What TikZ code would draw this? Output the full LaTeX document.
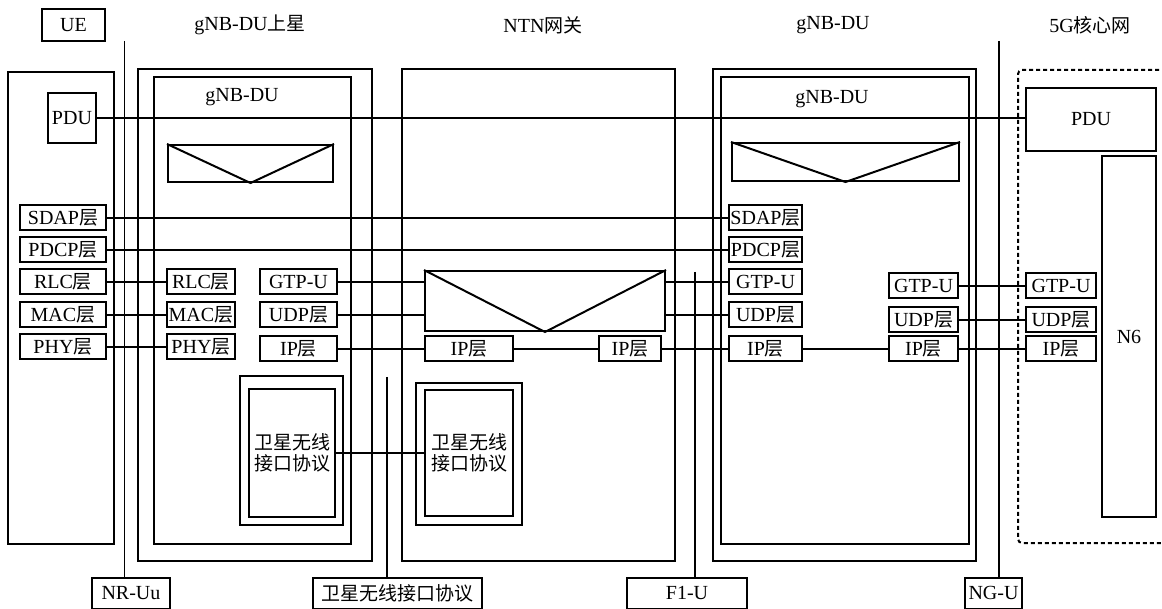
\documentclass[tikz,border=0pt]{standalone}
\usepackage{fontspec}
\setmainfont{Liberation Serif}
\newfontfamily\cjk[Scale=0.95]{Noto Sans CJK SC}
\newcommand{\zh}[1]{{\cjk #1}}

\begin{document}
\begin{tikzpicture}[
    x=1pt,
    y=-1pt,
    font=\fontsize{20}{21}\selectfont,
    frame/.style={
		rectangle,
		draw=black,
		line width=2pt,
		inner sep=0pt
	},
	layer/.style={
		rectangle,
		draw=black,
		line width=2pt,
		inner sep=0pt,
		minimum height=25pt,
		text centered
	},
	tag/.style={
		rectangle,
		draw=black,
		line width=2pt,
		inner sep=0pt,
		minimum height=31pt
	},
	link/.style={
		line width=1.2pt
	},
	vee/.style={
		line width=2pt
	}
  ]

\useasboundingbox [fill=white] (0,0) rectangle (1162,609);

% // headings
\node [tag, minimum width=63pt, minimum height=32pt] (ue) at (73.5,25) {UE};
\node (satHead) at (250,25) {gNB-DU\zh{上星}};
\node (ntnHead) at (543,25) {NTN\zh{网关}};
\node (gwHead) at (833,25) {gNB-DU};
\node (coreHead) at (1090,25) {5G\zh{核心网}};

% // UE
\node [frame, minimum width=106pt, minimum height=472pt] (ueBox) at (61,308) {};
\node [frame, minimum width=48pt, minimum height=50pt] (uePDU) at (72,118) {PDU};
\node [layer, minimum width=86pt] (ueSDAP) at (63,218) {SDAP\zh{层}};
\node [layer, minimum width=86pt] (uePDCP) at (63,250) {PDCP\zh{层}};
\node [layer, minimum width=86pt] (ueRLC) at (63,282) {RLC\zh{层}};
\node [layer, minimum width=86pt] (ueMAC) at (63,315) {MAC\zh{层}};
\node [layer, minimum width=86pt] (uePHY) at (63,347) {PHY\zh{层}};

% // gNB-DU on the satellite
\node [frame, minimum width=234pt, minimum height=492pt] (satOut) at (255,315) {};
\node [frame, minimum width=197pt, minimum height=467pt] (satIn) at (252.5,310.5) {};
\node (satDU) at (242,97) {gNB-DU};
\node [frame, minimum width=165pt, minimum height=37pt] (satV) at (250.5,163.5) {};
\draw [vee] (satV.north west) -- (satV.south) -- (satV.north east);
\node [layer, minimum width=68pt] (satRLC) at (201,282) {RLC\zh{层}};
\node [layer, minimum width=68pt] (satMAC) at (201,315) {MAC\zh{层}};
\node [layer, minimum width=68pt] (satPHY) at (201,347) {PHY\zh{层}};
\node [layer, minimum width=77pt] (satGTP) at (298.5,282) {GTP-U};
\node [layer, minimum width=77pt] (satUDP) at (298.5,315) {UDP\zh{层}};
\node [layer, minimum width=77pt] (satIP) at (298.5,349) {IP\zh{层}};
\node [frame, minimum width=103pt, minimum height=149pt] (satAirOut) at (291.5,450.5) {};
\node [frame, minimum width=86pt, minimum height=128pt, align=center] (satAir) at (292,453)
 {\zh{卫星无线}\\\zh{接口协议}};

% // NTN gateway
\node [frame, minimum width=273pt, minimum height=492pt] (ntnBox) at (538.5,315) {};
\node [frame, minimum width=240pt, minimum height=60pt] (ntnV) at (545,301) {};
\draw [vee] (ntnV.north west) -- (ntnV.south) -- (ntnV.north east);
\node [layer, minimum width=88pt] (ntnIPa) at (469,349) {IP\zh{层}};
\node [layer, minimum width=62pt] (ntnIPb) at (630,349) {IP\zh{层}};
\node [frame, minimum width=106pt, minimum height=142pt] (ntnAirOut) at (469,454) {};
\node [frame, minimum width=88pt, minimum height=125pt, align=center] (ntnAir) at (469,453)
 {\zh{卫星无线}\\\zh{接口协议}};

% // gNB-DU on the ground
\node [frame, minimum width=263pt, minimum height=492pt] (gwOut) at (844.5,315) {};
\node [frame, minimum width=248pt, minimum height=467pt] (gwIn) at (845,310.5) {};
\node (gwDU) at (832,99) {gNB-DU};
\node [frame, minimum width=227pt, minimum height=38pt] (gwV) at (845.5,162) {};
\draw [vee] (gwV.north west) -- (gwV.south) -- (gwV.north east);
\node [layer, minimum width=73pt] (gwSDAP) at (765.5,218) {SDAP\zh{层}};
\node [layer, minimum width=73pt] (gwPDCP) at (765.5,250) {PDCP\zh{层}};
\node [layer, minimum width=73pt] (gwGTP) at (765.5,282) {GTP-U};
\node [layer, minimum width=73pt] (gwUDP) at (765.5,315) {UDP\zh{层}};
\node [layer, minimum width=73pt] (gwIP) at (765.5,349) {IP\zh{层}};
\node [layer, minimum width=69pt] (upGTP) at (923.5,286) {GTP-U};
\node [layer, minimum width=69pt] (upUDP) at (923.5,320) {UDP\zh{层}};
\node [layer, minimum width=69pt] (upIP) at (923.5,349) {IP\zh{层}};

% // 5G core
\node [draw, dashed, dash pattern=on 4pt off 3pt, line width=2pt, rounded corners=4pt,
 minimum width=152pt, minimum height=473pt] (core) at (1094,306.5) {};
\node [frame, minimum width=130pt, minimum height=63pt] (corePDU) at (1091,119.5) {PDU};
\node [frame, minimum width=54pt, minimum height=361pt] (coreN6) at (1129,336.5) {N6};
\node [layer, minimum width=70pt] (coreGTP) at (1061,286) {GTP-U};
\node [layer, minimum width=70pt] (coreUDP) at (1061,320) {UDP\zh{层}};
\node [layer, minimum width=70pt] (coreIP) at (1061,349) {IP\zh{层}};

% // peer links
\draw [link] (uePDU.east) -- (uePDU.east -| corePDU.west);
\draw [link] (ueSDAP) -- (gwSDAP);
\draw [link] (uePDCP) -- (gwPDCP);
\draw [link] (ueRLC) -- (satRLC);
\draw [link] (ueMAC) -- (satMAC);
\draw [link] (uePHY) -- (satPHY);
\draw [link] (satGTP.east) -- (satGTP.east -| ntnV.west);
\draw [link] (satUDP.east) -- (satUDP.east -| ntnV.west);
\draw [link] (ntnV.east |- gwGTP.west) -- (gwGTP.west);
\draw [link] (ntnV.east |- gwUDP.west) -- (gwUDP.west);
\draw [link] (satIP) -- (ntnIPa);
\draw [link] (ntnIPa) -- (ntnIPb);
\draw [link] (ntnIPb) -- (gwIP);
\draw [link] (gwIP) -- (upIP);
\draw [link] (upGTP) -- (coreGTP);
\draw [link] (upUDP) -- (coreUDP);
\draw [link] (upIP) -- (coreIP);
\draw [link] (satAir) -- (ntnAir);

% // interfaces
\node [tag, minimum width=78pt] (nruu) at (131,593) {NR-Uu};
\node [tag, minimum width=169pt] (airIf) at (397.5,593) {\zh{卫星无线接口协议}};
\node [tag, minimum width=120pt] (f1u) at (687,593) {F1-U};
\node [tag, minimum width=57pt] (ngu) at (993.5,593) {NG-U};
\coordinate (nruuTop) at (124.7,41);
\coordinate (airTop) at (387,377);
\coordinate (f1uTop) at (695,272);
\coordinate (nguTop) at (999,41);
\draw [link] (nruuTop) -- (nruuTop |- nruu.north);
\draw [link] (airTop) -- (airTop |- airIf.north);
\draw [link] (f1uTop) -- (f1uTop |- f1u.north);
\draw [link] (nguTop) -- (nguTop |- ngu.north);

\end{tikzpicture}
\end{document}
